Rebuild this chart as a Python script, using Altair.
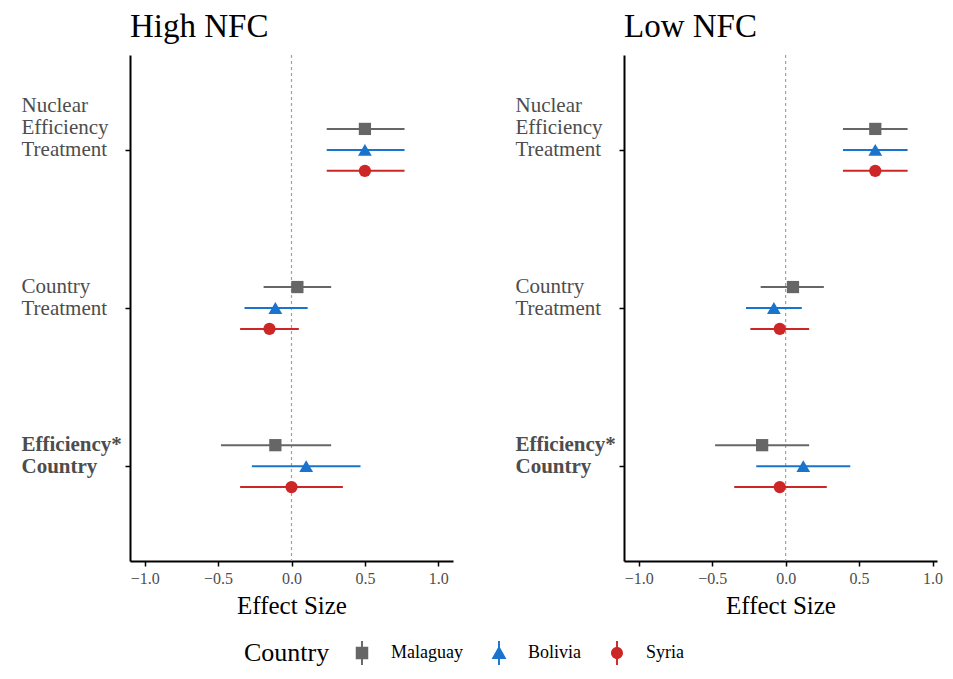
import json
import altair as alt
import pandas as pd

panel_titles = ["High NFC", "Low NFC"]
term_labels = [["Nuclear", "Efficiency", "Treatment"], ["Country", "Treatment"], ["Efficiency*", "Country"]]
term_bold = [False, False, True]
countries = ["Malaguay", "Bolivia", "Syria"]
country_colors = ["#666666", "#1874CD", "#CD2626"]
country_shapes = ["square", "triangle-up", "circle"]
x_ticks = [-1.0, -0.5, 0.0, 0.5, 1.0]

# rows = terms (in order above), columns = countries (in order above)
high_est = [[0.50, 0.50, 0.50], [0.04, -0.11, -0.15], [-0.11, 0.10, 0.00]]
high_lo = [[0.24, 0.24, 0.24], [-0.19, -0.32, -0.35], [-0.48, -0.27, -0.35]]
high_hi = [[0.77, 0.77, 0.77], [0.27, 0.11, 0.05], [0.27, 0.47, 0.35]]
low_est = [[0.61, 0.61, 0.61], [0.05, -0.08, -0.04], [-0.16, 0.12, -0.04]]
low_lo = [[0.39, 0.39, 0.39], [-0.17, -0.27, -0.24], [-0.48, -0.20, -0.35]]
low_hi = [[0.83, 0.83, 0.83], [0.26, 0.11, 0.16], [0.16, 0.44, 0.28]]

DODGE = 0.1325
FONT = "Liberation Serif"
LINE_H = 22
PX_PER_UNIT = 146.8

rows = []
for p, (est, lo, hi) in zip(panel_titles, [(high_est, high_lo, high_hi), (low_est, low_lo, low_hi)]):
    for t in range(len(term_labels)):
        for c in range(len(countries)):
            rows.append(dict(panel=p, term=t + 1, country=countries[c], est=est[t][c],
                             lo=lo[t][c], hi=hi[t][c], ypos=t + 1 + (c - 1) * DODGE))
df = pd.DataFrame(rows)

label_expr = ""
offset_expr = ""
for i, lab in enumerate(term_labels[:-1]):
    label_expr += f"datum.value == {i + 1} ? {json.dumps(lab)} : "
    offset_expr += f"datum.value == {i + 1} ? {-(len(lab) - 1) * LINE_H} : "
label_expr += json.dumps(term_labels[-1])
offset_expr += str(-(len(term_labels[-1]) - 1) * LINE_H)
bold_vals = [i + 1 for i, b in enumerate(term_bold) if b]
bold_test = f"indexof({json.dumps(bold_vals)}, datum.value) >= 0"

legend_paths = [
    "M-0.52,-0.52H0.52V0.52H-0.52Z M-0.08,-1H0.08V1H-0.08Z",
    "M0,-0.6L0.62,0.5L-0.62,0.5Z M-0.08,-1H0.08V1H-0.08Z",
    "M0.5,0A0.5,0.5 0 1 1 -0.5,0A0.5,0.5 0 1 1 0.5,0Z M-0.08,-1H0.08V1H-0.08Z",
]

H = 506
yscale = alt.Scale(domain=[0.4, 3.6], nice=False, zero=False, reverse=True)
cscale = alt.Scale(domain=countries, range=country_colors)


def panel(name, with_legend, xmax):
    W = round((xmax + 1.1) * PX_PER_UNIT)
    xscale = alt.Scale(domain=[-1.1, xmax], nice=False, zero=False)
    data = df[df.panel == name]
    base = alt.Chart(data)
    xaxis = alt.Axis(values=x_ticks, format=".1f", title="Effect Size", grid=False)
    yaxis = alt.Axis(values=[1, 2, 3], labelExpr=label_expr, title=None, grid=False,
                     labelAlign="left", labelBaseline="middle",
                     labelOffset=alt.ExprRef(offset_expr),
                     labelPadding=104, labelLineHeight=LINE_H,
                     labelFontWeight={"condition": {"test": bold_test, "value": "bold"}, "value": "normal"},
                     labelFontSize=21, labelColor="#4D4D4D", labelFont=FONT)
    layers = []
    if with_legend:
        leg_def = alt.Legend(title="Country", orient="none", legendX=114, legendY=586,
                             direction="horizontal", titleOrient="left")
        leg = base.transform_filter("false").mark_point(filled=True, opacity=1).encode(
            shape=alt.Shape("country:N", scale=alt.Scale(domain=countries, range=legend_paths),
                            legend=leg_def),
            color=alt.Color("country:N", scale=cscale, legend=leg_def),
        )
        layers.append(leg)
    zero = alt.Chart(pd.DataFrame({"z": [0.0]})).mark_rule(
        color="#a0a0a0", strokeDash=[3, 3], strokeWidth=1.2
    ).encode(x=alt.X("z:Q", scale=xscale, axis=xaxis))
    ranges = base.mark_rule(strokeWidth=2).encode(
        x=alt.X("lo:Q", scale=xscale, axis=xaxis),
        x2="hi:Q",
        y=alt.Y("ypos:Q", scale=yscale, axis=yaxis),
        color=alt.Color("country:N", scale=cscale, legend=None),
    )
    layers += [zero, ranges]
    sizes = {"square": 150, "triangle-up": 190, "circle": 150}
    for c, shp in zip(countries, country_shapes):
        layers.append(
            base.transform_filter(alt.datum.country == c).mark_point(
                shape=shp, filled=True, size=sizes[shp], opacity=1
            ).encode(
                x=alt.X("est:Q", scale=xscale, axis=xaxis),
                y=alt.Y("ypos:Q", scale=yscale, axis=yaxis),
                color=alt.Color("country:N", scale=cscale, legend=None),
            )
        )
    return alt.layer(*layers).properties(
        width=W, height=H,
        title=alt.Title(name, anchor="start", frame="group", fontSize=33, font=FONT,
                        fontWeight="normal", color="black", offset=10),
    )


chart = alt.hconcat(panel(panel_titles[0], True, 1.1), panel(panel_titles[1], False, 1.03),
                    spacing=62).properties(
    padding={"left": 13, "top": 3, "right": 0, "bottom": 0}
).configure_view(stroke=None).configure_axis(
    domainColor="black", domainWidth=2, tickColor="black", tickWidth=1.5, tickSize=5,
    labelFont=FONT, labelFontSize=16, labelColor="#4D4D4D",
    titleFont=FONT, titleFontSize=25, titleColor="black", titleFontWeight="normal",
    labelOverlap=False, labelBound=False, labelFlush=False,
).configure_axisX(labelPadding=4, titlePadding=7).configure_legend(
    titleFont=FONT, titleFontSize=26, titleFontWeight="normal", titleColor="black",
    titleBaseline="middle", titlePadding=20,
    labelFont=FONT, labelFontSize=18, labelColor="black", labelOffset=17,
    symbolSize=576, symbolStrokeWidth=0, columnPadding=24,
)

chart.save("out.html", embed_options={"renderer": "svg", "actions": False})
